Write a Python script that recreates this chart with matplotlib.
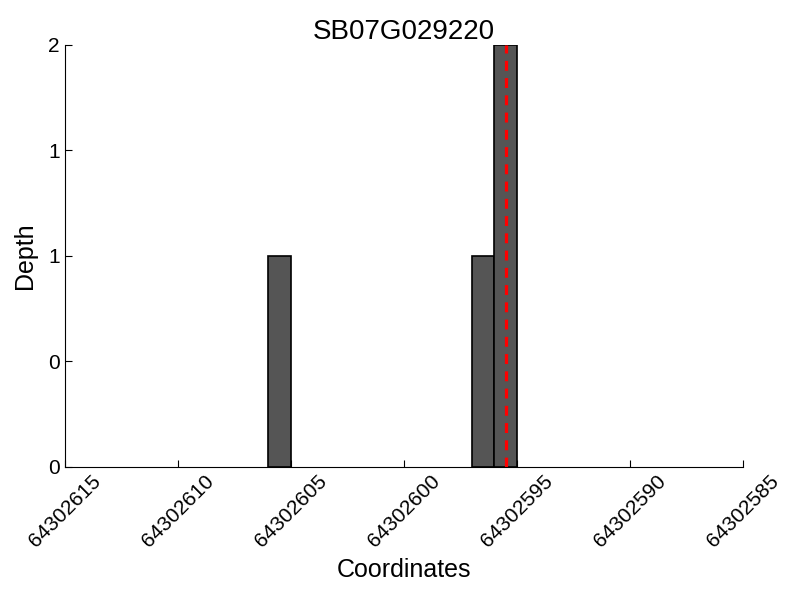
"""Depth plot for one gene region."""

import matplotlib
matplotlib.use("Agg")
import matplotlib.pyplot as plt
from matplotlib.ticker import FormatStrFormatter

plt.rcParams['font.family'] = ['Liberation Sans', 'DejaVu Sans']

gene_name = "SB07G029220"
positions = [64302605, 64302596, 64302595]
depths = [1, 1, 2]
site = 64302595.5
x_ticks = [64302615, 64302610, 64302605, 64302600, 64302595, 64302590, 64302585]
y_ticks = [0, 0.5, 1, 1.5, 2]

fig = plt.figure(figsize=(8, 6), dpi=100)
ax = fig.add_axes([0.081, 0.222, 0.848, 0.703])

ax.bar(positions, depths, width=1, align='edge', color='#555555',
       edgecolor='black', linewidth=1.2)
ax.axvline(site, color='red', linestyle=(0, (3.1, 2.3)), linewidth=2.3)

ax.set_xlim(x_ticks[0], x_ticks[-1])
ax.set_ylim(0, 2)
ax.set_xticks(x_ticks)
ax.set_xticklabels([str(t) for t in x_ticks], rotation=45)
ax.set_yticks(y_ticks)
ax.yaxis.set_major_formatter(FormatStrFormatter('%d'))
ax.tick_params(direction='in', labelsize=15, length=5)

ax.spines['top'].set_visible(False)
ax.spines['right'].set_visible(False)

ax.set_title(gene_name, fontsize=20, pad=2)
ax.set_xlabel('Coordinates', fontsize=18, labelpad=5)
ax.set_ylabel('Depth', fontsize=18, labelpad=8)

fig.savefig('out.png')
